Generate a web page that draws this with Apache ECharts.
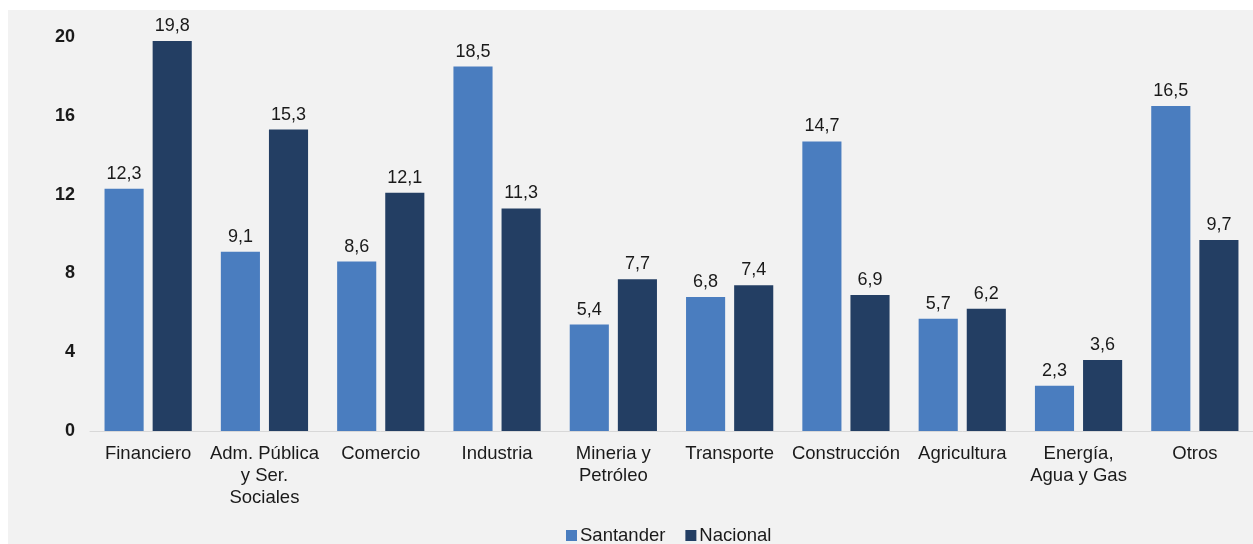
<!DOCTYPE html>
<html><head><meta charset="utf-8">
<script src="https://cdn.jsdelivr.net/npm/echarts@6/dist/echarts.min.js"></script>
<style>html,body{margin:0;padding:0;background:#fff}#c{width:1253px;height:544px}</style>
</head><body><div id="c"></div>
<script>
const categories = ['Financiero', 'Adm. Pública\ny Ser.\nSociales', 'Comercio', 'Industria', 'Mineria y\nPetróleo', 'Transporte', 'Construcción', 'Agricultura', 'Energía,\nAgua y Gas', 'Otros'];
const santander = [12.3, 9.1, 8.6, 18.5, 5.4, 6.8, 14.7, 5.7, 2.3, 16.5];
const nacional = [19.8, 15.3, 12.1, 11.3, 7.7, 7.4, 6.9, 6.2, 3.6, 9.7];
const yTicks = [0, 4, 8, 12, 16, 20];

const font = 'Liberation Sans, Arial, sans-serif';
const chart = echarts.init(document.getElementById('c'));
const labelCfg = {
  show: true, position: 'top', distance: 6,
  fontFamily: font, fontSize: 18, color: '#1a1a1a',
  formatter: p => p.value.toFixed(1).replace('.', ',')
};
chart.setOption({
  animation: false,
  backgroundColor: '#ffffff',
  graphic: [{ type: 'rect', left: 8, top: 10, shape: { width: 1253, height: 544 }, style: { fill: '#f2f2f2' }, z: -10 }],
  grid: { left: 90, right: -11, top: 37, bottom: 113 },
  legend: {
    data: ['Santander', 'Nacional'], bottom: -6, left: 561,
    itemWidth: 11, itemHeight: 11, itemGap: 20, icon: 'rect',
    textStyle: { fontFamily: font, fontSize: 18.5, color: '#1a1a1a', padding: [0, 0, 0, -2] }
  },
  xAxis: {
    type: 'category', data: categories,
    axisLine: { show: true, lineStyle: { color: '#d8d8d8', width: 1 } },
    axisTick: { show: false },
    axisLabel: { fontFamily: font, fontSize: 18.5, color: '#1a1a1a', lineHeight: 22, margin: 12, interval: 0 }
  },
  yAxis: {
    type: 'value', min: 0, max: 20, interval: 4,
    splitLine: { show: false },
    axisLine: { show: false }, axisTick: { show: false },
    axisLabel: { fontFamily: font, fontSize: 18, fontWeight: 'bold', color: '#1a1a1a', margin: 15,
      formatter: v => yTicks.includes(v) ? String(v) : '' }
  },
  series: [
    { name: 'Santander', type: 'bar', data: santander, barGap: '23%', barCategoryGap: '25%',
      itemStyle: { color: '#4a7dbf' }, label: labelCfg },
    { name: 'Nacional', type: 'bar', data: nacional,
      itemStyle: { color: '#233e63' }, label: labelCfg }
  ]
});
</script></body></html>
